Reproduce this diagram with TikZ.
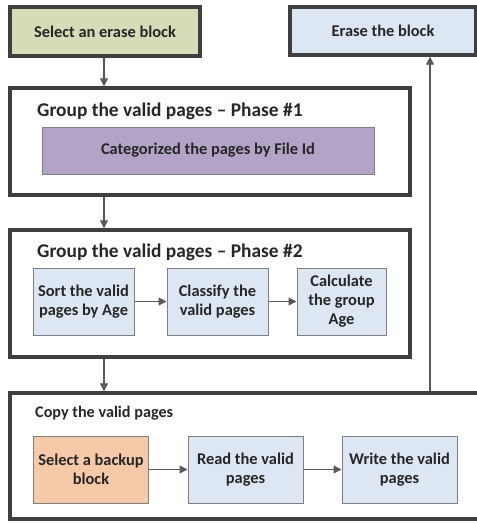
\documentclass[tikz,border=0pt]{standalone}
\usepackage{fontspec}
\setmainfont{Carlito}
\usetikzlibrary{arrows.meta,calc}
\definecolor{txt}{HTML}{262626}
\definecolor{olive}{HTML}{D7DCB8}
\definecolor{ltblue}{HTML}{DCE7F3}
\definecolor{purp}{HTML}{B3A3C7}
\definecolor{orng}{HTML}{F6C9A9}
\definecolor{frame}{HTML}{3F3F3F}
\definecolor{inner}{HTML}{7F7F7F}
\definecolor{arr}{HTML}{595959}
\tikzset{
  topbox/.style={draw=frame, line width=3.4pt, inner sep=0pt, text=txt, font=\fontsize{16.4}{19}\selectfont\bfseries},
  groupbox/.style={draw=frame, line width=3.4pt, fill=white, inner sep=0pt},
  stepbox/.style={draw=inner, line width=1pt, fill=ltblue, inner sep=0pt, align=center, text=txt, font=\fontsize{16.4}{19}\selectfont\bfseries},
  grptitle/.style={anchor=west, inner sep=0pt, text=txt, font=\fontsize{19.4}{22}\selectfont\bfseries},
  cptitle/.style={anchor=west, inner sep=0pt, text=txt, font=\fontsize{16.2}{19}\selectfont\bfseries},
  flow/.style={draw=arr, line width=1.2pt, -{Triangle[length=8pt,width=8pt]}},
}
\begin{document}
\begin{tikzpicture}[x=1pt,y=-1pt]
\useasboundingbox (0,0) rectangle (477,523);
% top boxes
\node[topbox, fill=olive, minimum width=190pt, minimum height=49pt] (sel) at (105,31.5) {Select an erase block};
\node[topbox, fill=ltblue, minimum width=186pt, minimum height=48pt] (erase) at (383,31) {Erase the block};
% phase 1
\node[groupbox, minimum width=400pt, minimum height=107pt] (ph1) at (210,141.5) {};
\node[grptitle] (ph1t) at (37,111) {Group the valid pages -- Phase \#1};
\node[stepbox, fill=purp, minimum width=332pt, minimum height=47pt] (cat) at (208,150.5) {Categorized the pages by File Id};
% phase 2
\node[groupbox, minimum width=400pt, minimum height=127pt] (ph2) at (210,293.5) {};
\node[grptitle] (ph2t) at (37,252) {Group the valid pages -- Phase \#2};
\node[stepbox, minimum width=101pt, minimum height=67pt] (sort) at (83.5,301.5) {Sort the valid\\pages by Age};
\node[stepbox, minimum width=101pt, minimum height=67pt] (clas) at (217.5,301.5) {Classify the\\valid pages};
\node[stepbox, minimum width=89pt, minimum height=67pt] (calc) at (341.5,301.5) {Calculate\\the group\\Age};
% copy
\begin{scope}
\clip (0,0) rectangle (477,523);
\node[groupbox, minimum width=480pt, minimum height=126pt] (copy) at (250,456) {};
\end{scope}
\node[cptitle] (cpt) at (35,413) {Copy the valid pages};
\node[stepbox, fill=orng, minimum width=115pt, minimum height=67pt] (bkp) at (91,469.5) {Select a backup\\block};
\node[stepbox, minimum width=115pt, minimum height=67pt] (read) at (245.5,469.5) {Read the valid\\pages};
\node[stepbox, minimum width=115pt, minimum height=67pt] (write) at (399.5,469.5) {Write the valid\\pages};
% connectors
\coordinate (col) at (104,0);
\coordinate (up) at (430,0);
\draw[flow] (sel.south -| col) -- (ph1.north -| col);
\draw[flow] (ph1.south -| col) -- (ph2.north -| col);
\draw[flow] (ph2.south -| col) -- (copy.north -| col);
\draw[flow] (sort) -- (clas);
\draw[flow] (clas) -- (calc);
\draw[flow] (bkp) -- (read);
\draw[flow] (read) -- (write);
\draw[flow] (copy.north -| up) -- (erase.south -| up);
\end{tikzpicture}
\end{document}
